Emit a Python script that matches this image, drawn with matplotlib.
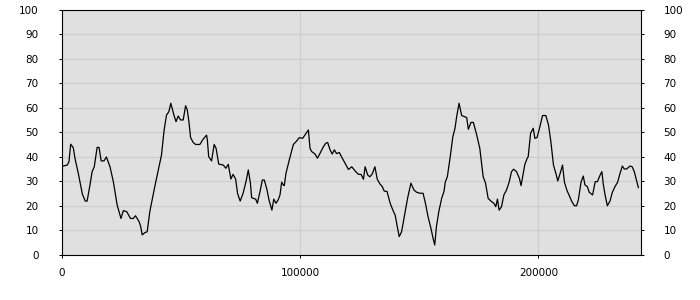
import matplotlib.pyplot as plt

# x positions and values
xs = [700, 2400, 3100, 3800, 4900, 5600, 7000, 8700, 9900, 10700, 11900, 12800,
      13700, 14900, 15700, 16600, 17800, 18800, 20300, 21700, 23300, 24900, 25900,
      27300, 28900, 30000, 31000, 32500, 33200, 33800, 34900, 35900, 37000, 39100,
      41900, 43000, 44000, 45000, 45800, 47100, 48000, 48900, 49900, 51000, 52000,
      52700, 53400, 54100, 55200, 56200, 58000, 59400, 60800, 61100, 61700, 62900,
      64000, 64800, 65900, 67800, 68900, 69900, 71000, 71900, 73000, 73800, 74900,
      76100, 77400, 78300, 79200, 79700, 80400, 81400, 82100, 83200, 84200, 85000,
      86000, 87100, 88200, 89000, 89900, 90800, 91600, 92300, 93000, 93400, 94100,
      95500, 97200, 98300, 99700, 101100, 102000, 103500, 104200, 104900, 106300,
      107300, 108400, 109800, 110800, 111600, 112600, 113500, 114400, 115300, 116500,
      117400, 118900, 120300, 121700, 123100, 124500, 125600, 126600, 127300, 128400,
      129300, 130300, 131400, 132400, 133500, 134500, 135300, 136500, 137800, 139200,
      139900, 140800, 141600, 142600, 144000, 145100, 146500, 147800, 148900, 150300,
      151600, 152600, 153700, 154900, 155800, 156500, 157200, 158200, 159400, 160400,
      160900, 161800, 163000, 164100, 165000, 165700, 166700, 167800, 168800, 169900,
      170600, 171700, 172700, 174100, 175400, 176800, 177800, 178900, 180300, 181300,
      182100, 182800, 183500, 184500, 185500, 186600, 187700, 188700, 189600, 190800,
      192000, 192700, 193400, 194300, 195300, 195700, 196700, 197800, 198500, 199400,
      200500, 201700, 203100, 204200, 205200, 206300, 207300, 208100, 209100, 210100,
      210900, 211900, 212800, 214000, 215100, 216000, 216700, 217900, 218800, 219500,
      220500, 221300, 222700, 223800, 224700, 225900, 226600, 227200, 228000, 228900,
      230000, 231000, 232100, 233200, 234200, 235200, 236000, 237000, 238400, 239300,
      240200, 241200, 241900]
values = [36.3, 36.7, 38.1, 45.2, 43.8, 39.5, 33.3, 24.9, 22.0, 22.0, 28.6, 34.0,
          36.0, 43.9, 43.9, 38.4, 38.4, 40.0, 36.0, 29.9, 20.4, 14.9, 18.1,
          17.7, 14.9, 14.9, 16.0, 13.6, 11.5, 8.2, 9.1, 9.5, 17.7, 28.0,
          40.8, 51.0, 57.1, 58.5, 61.9, 57.1, 54.4, 56.7, 55.1, 55.1, 60.9,
          59.2, 54.4, 47.9, 45.9, 45.1, 45.1, 47.3, 48.9, 47.2, 40.1, 38.4,
          45.1, 43.5, 37.1, 36.7, 35.4, 37.0, 31.0, 32.9, 31.0, 25.1, 22.0,
          25.1, 30.2, 34.7, 29.3, 23.4, 23.1, 22.8, 21.1, 25.8, 30.6, 30.6,
          27.2, 22.0, 18.3, 22.8, 21.1, 22.4, 24.5, 29.7, 28.6, 28.3, 33.3,
          38.8, 45.1, 46.2, 47.9, 47.6, 48.9, 51.0, 43.5, 42.2, 41.2,
          39.5, 41.5, 44.2, 45.6, 45.9, 42.9, 41.2, 42.9, 41.4, 41.8,
          40.1, 37.4, 34.9, 36.0, 34.3, 32.9, 32.9, 30.9, 36.0, 32.6,
          31.9, 33.1, 36.0, 30.9, 29.0, 27.9, 26.1, 25.9, 21.1, 17.7,
          16.3, 11.5, 7.5, 9.5, 17.0, 23.1, 29.3, 26.5, 25.6, 25.2,
          25.2, 21.1, 15.6, 10.9, 6.8, 4.1, 11.5, 17.7, 23.1, 26.0,
          29.7, 32.0, 40.1, 48.3, 51.7, 56.5, 61.9, 56.9, 56.5, 56.1,
          51.3, 54.1, 54.1, 49.0, 43.5, 32.0, 29.3, 23.1, 21.8, 21.1,
          19.7, 22.8, 18.3, 19.7, 24.5, 26.5, 29.7, 34.0, 35.0, 34.0,
          31.3, 28.3, 32.0, 37.0, 39.5, 40.1, 49.7, 51.7, 47.6, 47.9,
          51.9, 56.9, 56.9, 53.1, 46.3, 36.7, 33.3, 30.2, 33.3, 36.7,
          29.7, 26.5, 24.5, 21.8, 20.1, 20.1, 22.4, 29.9, 32.2, 28.6,
          27.9, 25.6, 24.5, 29.9, 29.9, 32.7, 34.0, 28.8, 24.2, 20.1,
          22.0, 25.6, 27.9, 29.7, 33.3, 36.3, 35.1, 35.1, 36.3, 36.0,
          34.0, 30.2, 27.5]

x_ticks = [0, 100000, 200000]
y_ticks = [0, 10, 20, 30, 40, 50, 60, 70, 80, 90, 100]

fig = plt.figure(figsize=(7, 3), dpi=100)
ax = fig.add_axes([0.088, 0.15, 0.827, 0.817])
ax.set_facecolor('#e0e0e0')

ax.plot(xs, values, color='black', linewidth=0.9)

ax.set_xlim(0, 242800)
ax.set_ylim(0, 100)
ax.set_xticks(x_ticks)
ax.set_xticklabels([str(t) for t in x_ticks])
ax.set_yticks(y_ticks)
ax.grid(True, color='#cccccc', linewidth=0.8)
ax.set_axisbelow(True)

ax.tick_params(axis='both', direction='out', length=2.5, width=0.75,
               labelsize=7.5, colors='black')
ax.tick_params(axis='y', right=True, labelright=True, pad=14)
ax.tick_params(axis='x', pad=7)

for s in ax.spines.values():
    s.set_color('black')
    s.set_linewidth(0.8)

fig.savefig('out.png')
